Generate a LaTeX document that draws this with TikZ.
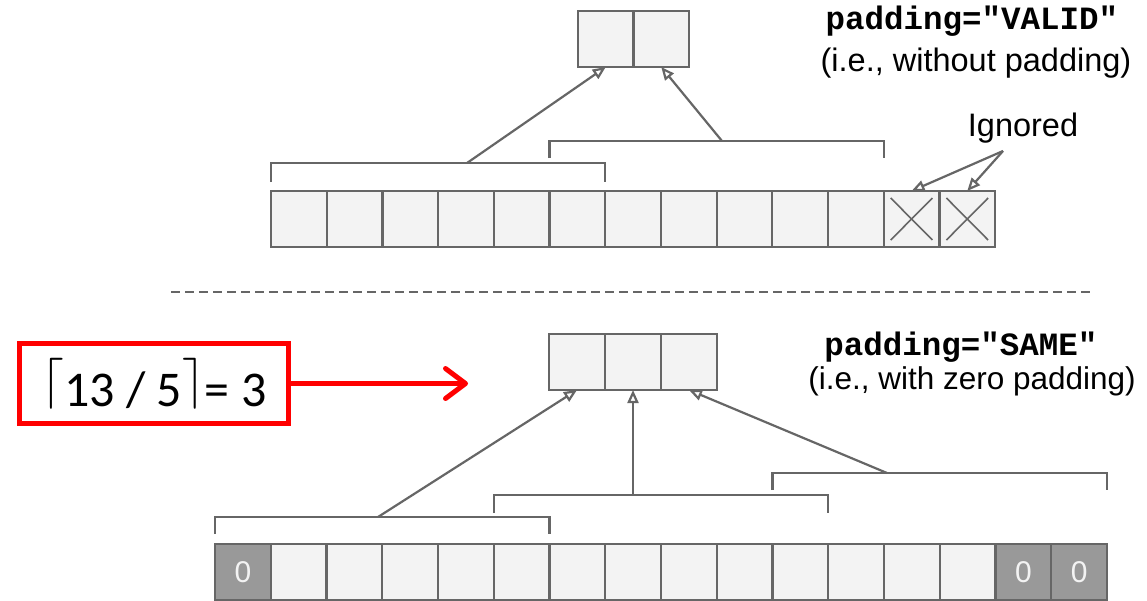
\documentclass[tikz,border=0pt]{standalone}
\usepackage{fontspec}
\usepackage{graphicx}
\setmainfont{Liberation Sans}
\newfontfamily\codefont{Liberation Mono}
\newfontfamily\eqfont{Carlito}
\usetikzlibrary{arrows.meta}

\definecolor{cellfill}{HTML}{F3F3F3}
\definecolor{cellline}{HTML}{666666}
\definecolor{padfill}{HTML}{999999}
\definecolor{eqred}{HTML}{FF0000}

% ceiling brackets for the formula
\newcommand{\ceilL}{\raisebox{10pt}{\scalebox{5.1}{\normalsize$\lceil$}}}
\newcommand{\ceilR}{\raisebox{10pt}{\scalebox{5.1}{\normalsize$\rceil$}}}

\begin{document}
\begin{tikzpicture}[x=1pt,y=-1pt,
  cell/.style={draw=cellline, fill=cellfill, line width=2.2pt,
    minimum width=55.7pt, minimum height=56pt, inner sep=0pt, outer sep=0pt},
  padcell/.style={cell, minimum width=55.75pt, fill=padfill, text=cellfill,
    font=\fontsize{30}{30}\selectfont},
  bracket/.style={draw=cellline, line width=2.2pt},
  feed/.style={draw=cellline, line width=2.2pt,
    -{Triangle[open,length=13pt,width=11pt]}},
  xmark/.style={draw=cellline, line width=1.6pt},
  codelabel/.style={anchor=base, font=\codefont\bfseries\fontsize{32.5}{32.5}\selectfont},
  notelabel/.style={anchor=base, font=\fontsize{32.5}{32.5}\selectfont},
  eqbox/.style={draw=eqred, line width=5pt, minimum width=269pt,
    minimum height=80pt, inner sep=0pt, font=\eqfont\fontsize{50}{50}\selectfont},
  eqarrow/.style={draw=eqred, line width=5pt, line cap=round,
    -{Straight Barb[length=20pt,width=30pt,round]}}
]
\useasboundingbox (0,0) rectangle (1147,600);

% ---------------- VALID padding ----------------
\foreach \i in {1,...,13}
  \node[cell] (t\i) at ({271+55.7*(\i-0.5)},219) {};
\foreach \i in {1,2}
  \node[cell, minimum width=55.5pt] (p\i) at ({578+55.5*(\i-0.5)},39) {};

% crossed-out cells
\foreach \c in {t12,t13} {
  \draw[xmark] ([xshift=7pt,yshift=-7pt]\c.north west) -- ([xshift=-7pt,yshift=7pt]\c.south east);
  \draw[xmark] ([xshift=-7pt,yshift=-7pt]\c.north east) -- ([xshift=7pt,yshift=7pt]\c.south west);
}

% receptive-field brackets
\coordinate (vAtop) at (0,163);
\coordinate (vAleg) at (0,182);
\coordinate (vBtop) at (0,141);
\coordinate (vBleg) at (0,158);
\draw[bracket] (t1.west |- vAleg) -- (t1.west |- vAtop) -- (t6.east |- vAtop) -- (t6.east |- vAleg);
\draw[bracket] (t6.west |- vBleg) -- (t6.west |- vBtop) -- (t11.east |- vBtop) -- (t11.east |- vBleg);

\coordinate (vA) at (467,163);
\coordinate (vB) at (722,141);
\draw[feed] (vA) -- (p1.south);
\draw[feed] (vB) -- (p2.south);

\node[notelabel] (ign) at (1023,136) {Ignored};
\coordinate (igsrc) at (1003,151);
\draw[feed] (igsrc) -- (t12.north);
\draw[feed] (igsrc) -- (t13.north);

\node[codelabel] (validcode) at (972,29) {padding="VALID"};
\node[notelabel] (validnote) at (976,71) {(i.e., without padding)};

% separator
\draw[cellline, line width=2pt, dash pattern=on 9pt off 5pt] (171,292) -- (1091,292);

% ---------------- SAME padding ----------------
\node[padcell] (b1) at ({215+55.75*0.5},572) {0};
\foreach \i in {2,...,14}
  \node[cell, minimum width=55.75pt] (b\i) at ({215+55.75*(\i-0.5)},572) {};
\node[padcell] (b15) at ({215+55.75*14.5},572) {0};
\node[padcell] (b16) at ({215+55.75*15.5},572) {0};

\foreach \i in {1,2,3}
  \node[cell, minimum width=56pt] (q\i) at ({549+56*(\i-0.5)},362) {};

\coordinate (sAtop) at (0,517);
\coordinate (sAleg) at (0,534);
\coordinate (sBtop) at (0,495);
\coordinate (sBleg) at (0,513);
\coordinate (sCtop) at (0,473);
\coordinate (sCleg) at (0,490);
\draw[bracket] (b1.west |- sAleg) -- (b1.west |- sAtop) -- (b6.east |- sAtop) -- (b6.east |- sAleg);
\draw[bracket] (b6.west |- sBleg) -- (b6.west |- sBtop) -- (b11.east |- sBtop) -- (b11.east |- sBleg);
\draw[bracket] (b11.west |- sCleg) -- (b11.west |- sCtop) -- (b16.east |- sCtop) -- (b16.east |- sCleg);

\coordinate (sA) at (378,517);
\coordinate (sC) at (887,473);
\draw[feed] (sA) -- (q1.south);
\draw[feed] (q2.south |- sBtop) -- (q2.south);
\draw[feed] (sC) -- (q3.south);

\node[codelabel] (samecode) at (961,355) {padding="SAME"};
\node[notelabel, font=\fontsize{31.5}{31.5}\selectfont] (samenote) at (972,389) {(i.e., with zero padding)};

% output-size formula
\node[eqbox] (eq) at (154,383.5) {\ceilL13 / 5\ceilR= 3};
\coordinate (eqtip) at (468,383.5);
\draw[eqarrow] (eq.east) -- (eq.east -| eqtip);

\end{tikzpicture}
\end{document}
